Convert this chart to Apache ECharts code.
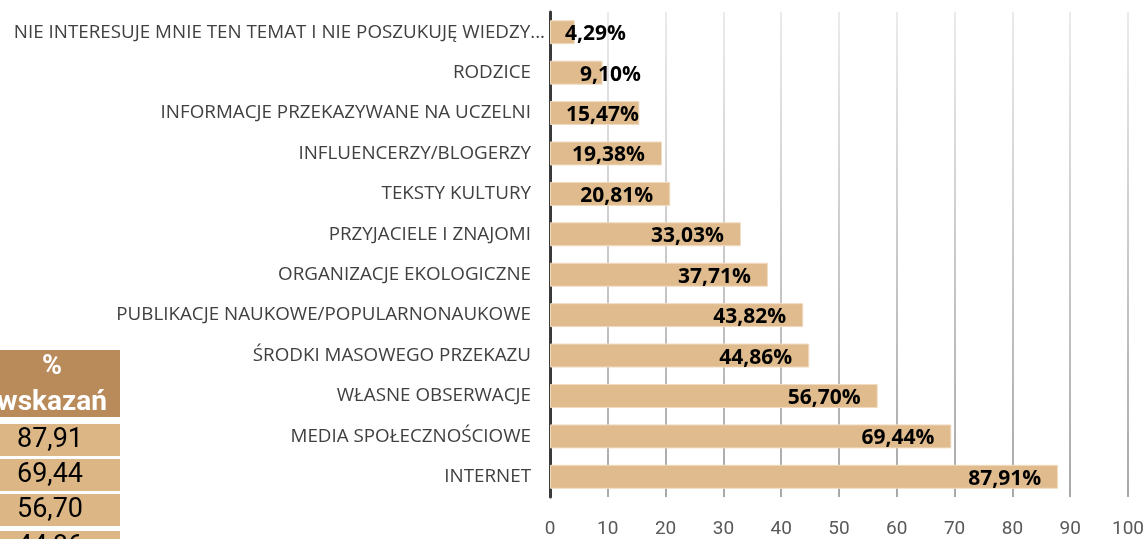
<!DOCTYPE html>
<html>
<head>
<meta charset="utf-8">
<script src="https://cdn.jsdelivr.net/npm/echarts@6/dist/echarts.min.js"></script>
<style>
  html, body { margin: 0; padding: 0; background: #fff; }
  #myChart { width: 1147px; height: 539px; }
</style>
</head>
<body>
<div id="myChart"></div>
<script>
// kategorie od góry do dołu
const categories = [
  "NIE INTERESUJE MNIE TEN TEMAT I NIE POSZUKUJĘ WIEDZY...",
  "RODZICE",
  "INFORMACJE PRZEKAZYWANE NA UCZELNI",
  "INFLUENCERZY/BLOGERZY",
  "TEKSTY KULTURY",
  "PRZYJACIELE I ZNAJOMI",
  "ORGANIZACJE EKOLOGICZNE",
  "PUBLIKACJE NAUKOWE/POPULARNONAUKOWE",
  "ŚRODKI MASOWEGO PRZEKAZU",
  "WŁASNE OBSERWACJE",
  "MEDIA SPOŁECZNOŚCIOWE",
  "INTERNET"
];
const values = [4.29, 9.10, 15.47, 19.38, 20.81, 33.03, 37.71, 43.82, 44.86, 56.70, 69.44, 87.91];
const xTicks = [0, 10, 20, 30, 40, 50, 60, 70, 80, 90, 100];

// fragment tabeli po lewej
const tableHeader = ["%", "wskazań"];
const tableValues = ["87,91", "69,44", "56,70", "44,86"];

const fmt = v => v.toFixed(2).replace(".", ",");

// etykiety, które nie mieszczą się w słupku
const shortLabelX = { 0: 15, 1: 30, 2: 16 };

const seriesData = values.map((v, i) => {
  const item = { value: v };
  if (shortLabelX[i] !== undefined) {
    item.label = { position: [shortLabelX[i], "50%"], align: "left", verticalAlign: "middle", offset: [0, 2] };
  }
  return item;
});

const graphics = [];
graphics.push({
  type: "rect", shape: { x: -20, y: 350, width: 140, height: 67 },
  style: { fill: "#b98a5a" }, silent: true
});
graphics.push({
  type: "text", x: 52, y: 367,
  style: { text: tableHeader[0], fill: "#fff", font: "bold 27px Roboto", align: "center", verticalAlign: "middle" }
});
graphics.push({
  type: "text", x: 52, y: 403,
  style: { text: tableHeader[1], fill: "#fff", font: "bold 28px Roboto", align: "center", verticalAlign: "middle" }
});
const rowTops = [424, 459, 494, 531];
tableValues.forEach((t, i) => {
  graphics.push({
    type: "rect", shape: { x: -20, y: rowTops[i], width: 140, height: 32 },
    style: { fill: "#ddb685" }, silent: true
  });
  graphics.push({
    type: "text", x: 50, y: rowTops[i] + 16,
    style: { text: t, fill: "#000", font: "27px Roboto", align: "center", verticalAlign: "middle" }
  });
});

let myChart = echarts.init(document.getElementById("myChart"));
myChart.setOption({
  animation: false,
  grid: { left: 550, right: 18, top: 12, bottom: 42, containLabel: false },
  xAxis: {
    type: "value",
    min: 0,
    max: 100,
    interval: 10,
    axisLine: { show: false },
    axisTick: { show: false },
    axisLabel: {
      color: "#595959",
      fontFamily: "Roboto",
      fontSize: 19,
      margin: 23,
      formatter: v => (xTicks.indexOf(v) >= 0 ? String(v) : "")
    },
    splitLine: {
      show: true,
      lineStyle: {
        width: 2,
        color: {
          type: "linear", x: 0, y: 12, x2: 0, y2: 497, global: true,
          colorStops: [{ offset: 0, color: "#ebebeb" }, { offset: 1, color: "#a8a8a8" }]
        }
      }
    }
  },
  yAxis: {
    type: "category",
    inverse: true,
    data: categories,
    axisLine: { show: true, lineStyle: { color: "#3a3a3a", width: 3 } },
    axisTick: { show: false },
    axisLabel: {
      color: "#404040",
      fontFamily: "Open Sans",
      fontSize: 18.8,
      margin: 19,
      formatter: (v, i) => (i === 0 ? "{w|" + v + "}" : v),
      rich: {
        w: { fontFamily: "Open Sans", fontSize: 18.8, color: "#404040", padding: [0, -14, 0, 0] }
      }
    }
  },
  series: [
    {
      type: "bar",
      data: seriesData,
      barWidth: 24,
      itemStyle: { color: "#dfbb8d", borderColor: "#f1dcc2", borderWidth: 1 },
      label: {
        show: true,
        position: "insideRight",
        distance: 17,
        offset: [0, 2],
        color: "#000",
        fontFamily: "Open Sans",
        fontWeight: "bold",
        fontSize: 21,
        formatter: p => fmt(p.value) + "%"
      }
    }
  ],
  graphic: graphics
});
</script>
</body>
</html>
